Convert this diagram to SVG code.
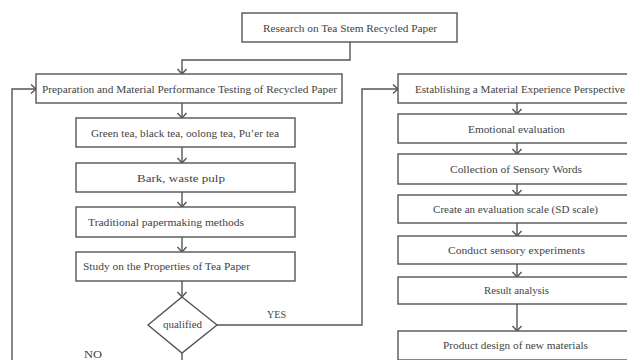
<svg xmlns="http://www.w3.org/2000/svg" width="627" height="360" viewBox="0 0 627 360">
<defs>
<style>
.box{fill:#fff;stroke:#555;stroke-width:1.4}
.t{font-family:"Liberation Serif","Times New Roman",serif;font-size:11px;fill:#444}
.c{text-anchor:middle}
.ln{fill:none;stroke:#555;stroke-width:1.4}
</style>
<marker id="arr" markerUnits="userSpaceOnUse" markerWidth="12" markerHeight="12" viewBox="-8 -6 10 12" refX="0" refY="0" orient="auto">
<path d="M-5,-4.5 L0,0 L-5,4.5" fill="none" stroke="#555" stroke-width="1.4"/>
</marker>
</defs>
<rect width="627" height="360" fill="#fff"/>
<g id="connectors">
<path class="ln" d="M350,42 V60 H182 V74" marker-end="url(#arr)"/>
<path class="ln" d="M182,103 V118" marker-end="url(#arr)"/>
<path class="ln" d="M182,147 V163" marker-end="url(#arr)"/>
<path class="ln" d="M182,192 V207" marker-end="url(#arr)"/>
<path class="ln" d="M182,237 V252" marker-end="url(#arr)"/>
<path class="ln" d="M182,281 V297" marker-end="url(#arr)"/>
<path class="ln" d="M182,353 V362"/>
<path class="ln" d="M217,325 H362 V89 H398" marker-end="url(#arr)"/>
<path class="ln" d="M12,362 V89 H36" marker-end="url(#arr)"/>
<path class="ln" d="M517,103 V114" marker-end="url(#arr)"/>
<path class="ln" d="M517,143 V154" marker-end="url(#arr)"/>
<path class="ln" d="M517,184 V195" marker-end="url(#arr)"/>
<path class="ln" d="M517,223 V236" marker-end="url(#arr)"/>
<path class="ln" d="M517,264 V277" marker-end="url(#arr)"/>
<path class="ln" d="M517,304 V331" marker-end="url(#arr)"/>
<text class="t" x="267" y="318" textLength="19" lengthAdjust="spacingAndGlyphs">YES</text>
<text class="t" x="84" y="358" textLength="18" lengthAdjust="spacingAndGlyphs">NO</text>
</g>
<g id="research">
<rect class="box" x="242" y="13" width="215" height="29"/>
<text class="t" x="263" y="32" textLength="174" lengthAdjust="spacingAndGlyphs">Research on Tea Stem Recycled Paper</text>
</g>
<g id="prep">
<rect class="box" x="36" y="74" width="306" height="29"/>
<text class="t" x="42" y="93" textLength="295" lengthAdjust="spacingAndGlyphs">Preparation and Material Performance Testing of Recycled Paper</text>
</g>
<g id="teas">
<rect class="box" x="76" y="118" width="219" height="29"/>
<text class="t" x="91" y="137" textLength="188" lengthAdjust="spacingAndGlyphs">Green tea, black tea, oolong tea, Pu’er tea</text>
</g>
<g id="bark">
<rect class="box" x="76" y="163" width="219" height="29"/>
<text class="t" x="137" y="182" textLength="88" lengthAdjust="spacingAndGlyphs">Bark, waste pulp</text>
</g>
<g id="traditional">
<rect class="box" x="76" y="207" width="219" height="30"/>
<text class="t" x="88" y="226" textLength="156" lengthAdjust="spacingAndGlyphs">Traditional papermaking methods</text>
</g>
<g id="study">
<rect class="box" x="76" y="252" width="219" height="29"/>
<text class="t" x="83" y="270" textLength="167" lengthAdjust="spacingAndGlyphs">Study on the Properties of Tea Paper</text>
</g>
<g id="qualified">
<polygon class="box" points="182,297 217,325 182,353 148,325"/>
<text class="t" x="163" y="328" textLength="39" lengthAdjust="spacingAndGlyphs">qualified</text>
</g>
<g id="perspective">
<rect class="box" x="398" y="74" width="240" height="29"/>
<text class="t" x="415" y="93" textLength="210" lengthAdjust="spacingAndGlyphs">Establishing a Material Experience Perspective</text>
</g>
<g id="emotional">
<rect class="box" x="398" y="114" width="240" height="29"/>
<text class="t" x="468" y="133" textLength="97" lengthAdjust="spacingAndGlyphs">Emotional evaluation</text>
</g>
<g id="collection">
<rect class="box" x="398" y="154" width="240" height="30"/>
<text class="t" x="450" y="173" textLength="132" lengthAdjust="spacingAndGlyphs">Collection of Sensory Words</text>
</g>
<g id="scale">
<rect class="box" x="398" y="195" width="240" height="28"/>
<text class="t" x="433" y="213" textLength="165" lengthAdjust="spacingAndGlyphs">Create an evaluation scale (SD scale)</text>
</g>
<g id="experiments">
<rect class="box" x="398" y="236" width="240" height="28"/>
<text class="t" x="448" y="254" textLength="137" lengthAdjust="spacingAndGlyphs">Conduct sensory experiments</text>
</g>
<g id="analysis">
<rect class="box" x="398" y="277" width="240" height="27"/>
<text class="t" x="484" y="294" textLength="65" lengthAdjust="spacingAndGlyphs">Result analysis</text>
</g>
<g id="product">
<rect class="box" x="398" y="331" width="240" height="29"/>
<text class="t" x="443" y="349" textLength="145" lengthAdjust="spacingAndGlyphs">Product design of new materials</text>
</g>
</svg>
